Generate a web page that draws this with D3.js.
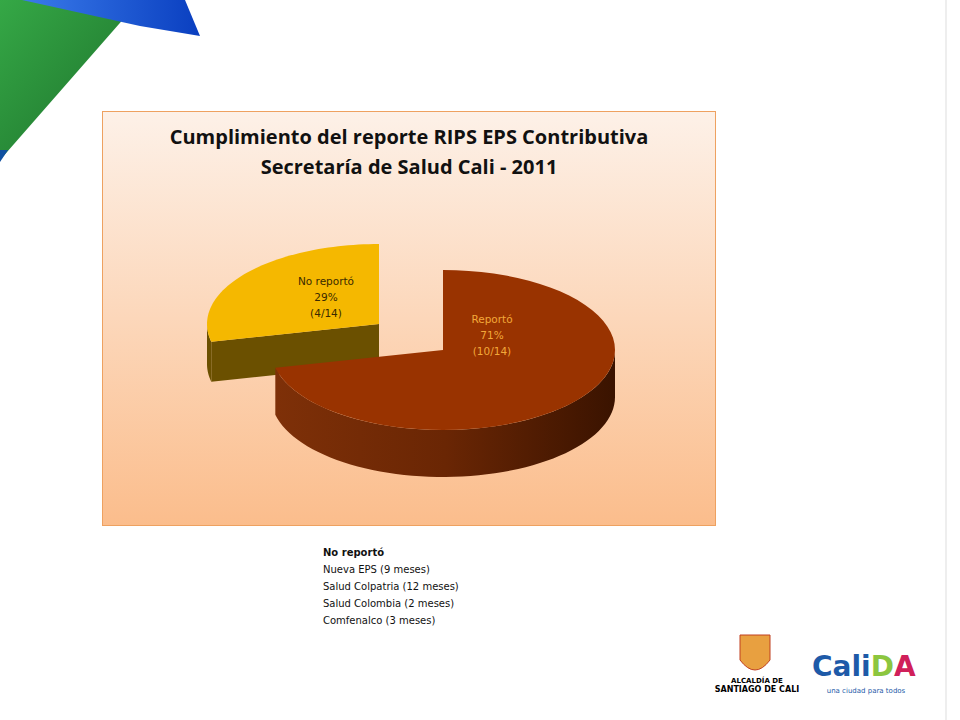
<!DOCTYPE html>
<html><head><meta charset="utf-8">
<script src="https://cdn.jsdelivr.net/npm/d3@7"></script>
<style>body{margin:0;background:#fff}svg{display:block}</style></head>
<body><svg id="c" width="960" height="720"></svg>
<script>
const categories = ["Reportó", "No reportó"];
const values = [10, 4];
const percentLabels = ["71%", "29%"];
const countLabels = ["(10/14)", "(4/14)"];
const noteLines = ["No reportó", "Nueva EPS (9 meses)", "Salud Colpatria (12 meses)", "Salud Colombia (2 meses)", "Comfenalco (3 meses)"];
const title = ["Cumplimiento del reporte RIPS EPS Contributiva", "Secretaría de Salud Cali - 2011"];

const svg = d3.select("#c");
const defs = svg.append("defs");
const bg = defs.append("linearGradient").attr("id","bg").attr("x1",0).attr("y1",0).attr("x2",0).attr("y2",1);
bg.append("stop").attr("offset","0").attr("stop-color","#fdf1e8");
bg.append("stop").attr("offset","1").attr("stop-color","#fbbd8c");
const wall = defs.append("linearGradient").attr("id","wall").attr("x1",0).attr("y1",0).attr("x2",1).attr("y2",0);
wall.append("stop").attr("offset","0").attr("stop-color","#7e3008");
wall.append("stop").attr("offset","0.5").attr("stop-color","#6a2604");
wall.append("stop").attr("offset","1").attr("stop-color","#3a1300");
const gr = defs.append("linearGradient").attr("id","gr").attr("x1",0).attr("y1",0).attr("x2",1).attr("y2",1);
gr.append("stop").attr("offset","0").attr("stop-color","#35a846");
gr.append("stop").attr("offset","1").attr("stop-color","#1c6e2a");
const bl = defs.append("linearGradient").attr("id","bl").attr("x1",0).attr("y1",0).attr("x2",1).attr("y2",0);
bl.append("stop").attr("offset","0").attr("stop-color","#3a7bea");
bl.append("stop").attr("offset","1").attr("stop-color","#0a3fc0");

svg.append("polygon").attr("points","0,0 140,0 0,160").attr("fill","url(#gr)");
svg.append("polygon").attr("points","22,0 185,0 200,36 140,26").attr("fill","url(#bl)");
svg.append("polygon").attr("points","0,150 8,150 0,162").attr("fill","#1050a0");
svg.append("line").attr("x1",946).attr("y1",0).attr("x2",946).attr("y2",720).attr("stroke","#ddd");

svg.append("rect").attr("x",102.5).attr("y",111.5).attr("width",613).attr("height",414)
  .attr("fill","url(#bg)").attr("stroke","#eea160");
svg.selectAll("text.t").data(title).join("text").attr("x",409).attr("y",(d,i)=>144+i*30)
  .attr("text-anchor","middle").attr("font-family","'Open Sans',Calibri,sans-serif").attr("font-weight","bold")
  .attr("font-size",20).attr("fill","#111").text(d=>d);

const cx=443, cy=350, rx=172, ry=80;
const pie = d3.pie().sort(null).value(d=>d);
const arcs = pie(values);
const offsets=[[0,0],[-64,-26]];
const depths=[47,40];
const topCol=["#993300","#f5b800"], sideCol=["url(#wall)","#6b5000"];
function pt(a,dx,dy,dz){return [cx+dx+rx*Math.sin(a), cy+dy-ry*Math.cos(a)+dz];}
function arcPts(a0,a1,dx,dy,dz){const n=60,p=[];for(let i=0;i<=n;i++){p.push(pt(a0+(a1-a0)*i/n,dx,dy,dz));}return p;}
const line=d3.line();
[1,0].forEach(i=>{
  const a=arcs[i], [dx,dy]=offsets[i], dp=depths[i];
  const g=svg.append("g");
  const f0=Math.max(a.startAngle,Math.PI/2), f1=Math.min(a.endAngle,3*Math.PI/2);
  if(f1>f0){
    const top=arcPts(f0,f1,dx,dy,0), bot=arcPts(f1,f0,dx,dy,dp);
    g.append("path").attr("d",line(top.concat(bot))+"Z").attr("fill",sideCol[i]);
  }
  if(i===1){
    const c=[cx+dx,cy+dy], p=pt(a.startAngle,dx,dy,0);
    g.append("path").attr("d",line([c,p,[p[0],p[1]+dp],[c[0],c[1]+dp]])+"Z").attr("fill",sideCol[i]);
  }
  const topPts=[[cx+dx,cy+dy]].concat(arcPts(a.startAngle,a.endAngle,dx,dy,0));
  g.append("path").attr("d",line(topPts)+"Z").attr("fill",topCol[i]);
});
const labPos=[[492,323],[326,285]];
const labCol=["#f2a83a","#3a2a00"];
arcs.forEach((a,i)=>{
  const t=svg.append("text").attr("text-anchor","middle").attr("font-family","'DejaVu Sans',sans-serif")
   .attr("font-size",10.5).attr("fill",labCol[i]);
  [categories[i],percentLabels[i],countLabels[i]].forEach((s,k)=>t.append("tspan").attr("x",labPos[i][0]).attr("y",labPos[i][1]+k*16).text(s));
});

svg.selectAll("text.n").data(noteLines).join("text").attr("x",323).attr("y",(d,i)=>556+i*17)
 .attr("font-family","'DejaVu Sans',sans-serif").attr("font-size",10).attr("font-weight",(d,i)=>i===0?"bold":"normal")
 .attr("fill","#111").text(d=>d);

svg.append("path").attr("d","M740,635 h30 v25 q-15,20 -30,0 z").attr("fill","#e8a040").attr("stroke","#c04020");
svg.append("text").attr("x",757).attr("y",683).attr("text-anchor","middle").attr("font-family","'DejaVu Sans',sans-serif").attr("font-size",7).attr("font-weight","bold").text("ALCALDÍA DE");
svg.append("text").attr("x",757).attr("y",692).attr("text-anchor","middle").attr("font-family","'DejaVu Sans',sans-serif").attr("font-size",8).attr("font-weight","bold").text("SANTIAGO DE CALI");
const cal=svg.append("text").attr("x",812).attr("y",676).attr("font-family","'DejaVu Sans',sans-serif").attr("font-size",28).attr("font-weight","bold");
cal.append("tspan").attr("fill","#1e5aa8").text("Cali");
cal.append("tspan").attr("fill","#8cc63f").text("D");
cal.append("tspan").attr("fill","#d0205a").text("A");
svg.append("text").attr("x",866).attr("y",693).attr("text-anchor","middle").attr("font-family","'DejaVu Sans',sans-serif").attr("font-size",7).attr("fill","#1e5aa8").text("una ciudad para todos");
</script></body></html>
